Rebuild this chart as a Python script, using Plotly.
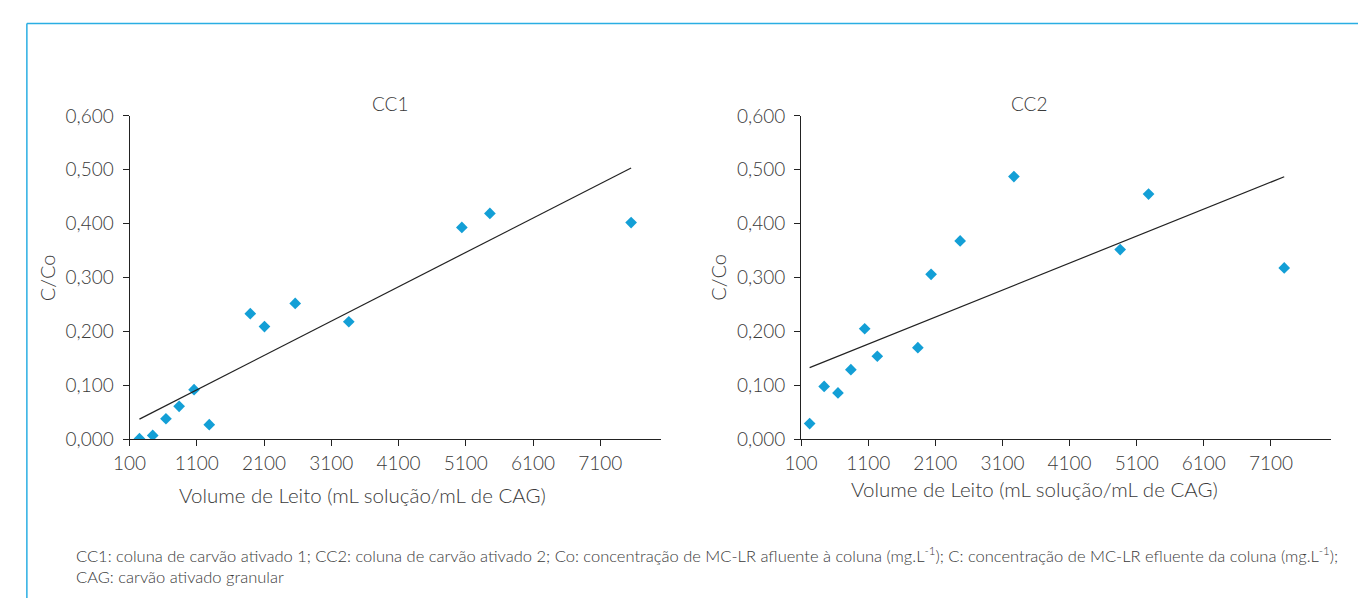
import numpy as np
import plotly.graph_objects as go

W, H = 1358, 609

# Bed volumes (mL solution / mL GAC) and C/Co for each column
cc1_bv = [247, 444, 641, 837, 1059, 1285, 1895, 2106, 2563, 3360, 5041, 5458, 7558]
cc1_ratio = [0.001, 0.007, 0.038, 0.061, 0.092, 0.027, 0.233, 0.209, 0.252, 0.218, 0.393, 0.419, 0.402]

cc2_bv = [228, 444, 650, 842, 1048, 1236, 1840, 2037, 2470, 3271, 4854, 5277, 7298]
cc2_ratio = [0.029, 0.098, 0.086, 0.129, 0.205, 0.154, 0.170, 0.306, 0.368, 0.4875, 0.352, 0.455, 0.318]

x_ticks = [100, 1100, 2100, 3100, 4100, 5100, 6100, 7100]
y_ticks = [0.0, 0.1, 0.2, 0.3, 0.4, 0.5, 0.6]
y_labels = ["0,000", "0,100", "0,200", "0,300", "0,400", "0,500", "0,600"]

panel_titles = ["CC1", "CC2"]
x_title = "Volume de Leito (mL solução/mL de CAG)"
y_title = "C/Co"
footnote = ("CC1: coluna de carvão ativado 1; CC2: coluna de carvão ativado 2; "
            "Co: concentração de MC-LR afluente à coluna (mg.L<sup>-1</sup>); "
            "C: concentração de MC-LR efluente da coluna (mg.L<sup>-1</sup>);<br>"
            "CAG: carvão ativado granular")

FONT = "Lato"
TXT = "#3a3a3a"
MARK = "#139fd6"
FRAME = "#2aaee3"


def px_x(p):
    return p / W


def px_y(p):
    return 1 - p / H


fig = go.Figure()

panels = [
    (cc1_bv, cc1_ratio, "x", "y"),
    (cc2_bv, cc2_ratio, "x2", "y2"),
]
for bv, ratio, xa, ya in panels:
    fig.add_trace(go.Scatter(
        x=bv, y=ratio, mode="markers", xaxis=xa, yaxis=ya,
        marker=dict(symbol="diamond", size=9, color=MARK),
        showlegend=False, hoverinfo="x+y",
    ))
    # linear trendline over the data span
    slope, icpt = np.polyfit(bv, ratio, 1)
    xs = np.array([min(bv), max(bv)])
    fig.add_trace(go.Scatter(
        x=xs, y=slope * xs + icpt, mode="lines", xaxis=xa, yaxis=ya,
        line=dict(color="#222222", width=1.2),
        showlegend=False, hoverinfo="skip",
    ))

y_dom = [px_y(444), px_y(108)]
x_doms = [[px_x(114), px_x(652)], [px_x(794), px_x(1331)]]

axis_common = dict(
    showgrid=False, zeroline=False, showline=True, linecolor="#222222", linewidth=1,
    ticks="outside", ticklen=6, tickcolor="#222222", tickwidth=1,
    tickfont=dict(family=FONT, size=19, color=TXT, weight=300),
)

for i, (xa, ya) in enumerate([("xaxis", "yaxis"), ("xaxis2", "yaxis2")]):
    xid = "x" if i == 0 else "x2"
    yid = "y" if i == 0 else "y2"
    fig.layout[xa] = dict(
        domain=x_doms[i], range=[100, 8000], anchor=yid,
        tickmode="array", tickvals=x_ticks, ticktext=[str(v) for v in x_ticks],
        ticklabelstandoff=1,
        **axis_common,
    )
    fig.layout[ya] = dict(
        domain=y_dom, range=[0, 0.6], anchor=xid,
        tickmode="array", tickvals=y_ticks, ticktext=y_labels,
        ticklabelstandoff=5,
        **axis_common,
    )

annots = []
# panel titles
for txt, cx in zip(panel_titles, [378, 1025]):
    annots.append(dict(text=txt, x=px_x(cx), y=px_y(95), xref="paper", yref="paper",
                       showarrow=False, xanchor="center", yanchor="middle",
                       font=dict(family=FONT, size=19, color=TXT, weight=300)))
# axis titles
for cx, cy in [(350, 502), (1030, 496)]:
    annots.append(dict(text=x_title, x=px_x(cx), y=px_y(cy),
                       xref="paper", yref="paper", showarrow=False,
                       xanchor="center", yanchor="middle",
                       font=dict(family=FONT, size=20.5, color=TXT, weight=300)))
for cx in [30, 709]:
    annots.append(dict(text=y_title, x=px_x(cx), y=px_y(276), xref="paper", yref="paper",
                       showarrow=False, textangle=-90, xanchor="center", yanchor="middle",
                       font=dict(family=FONT, size=20, color=TXT, weight=300)))
# footnote
annots.append(dict(text=footnote, x=px_x(58), y=px_y(575), xref="paper", yref="paper",
                   showarrow=False, xanchor="left", yanchor="middle", align="left",
                   font=dict(family=FONT, size=16.5, color=TXT, weight=300)))

shapes = [
    dict(type="line", xref="paper", yref="paper", x0=px_x(10), x1=1,
         y0=px_y(12), y1=px_y(12), line=dict(color=FRAME, width=1.5)),
    dict(type="line", xref="paper", yref="paper", x0=px_x(10), x1=px_x(10),
         y0=0, y1=px_y(12), line=dict(color=FRAME, width=1.5)),
]

fig.update_layout(
    width=W, height=H, margin=dict(l=0, r=0, t=0, b=0),
    paper_bgcolor="white", plot_bgcolor="white",
    annotations=annots, shapes=shapes,
    font=dict(family=FONT, color=TXT),
)

fig.write_html("out.html")
